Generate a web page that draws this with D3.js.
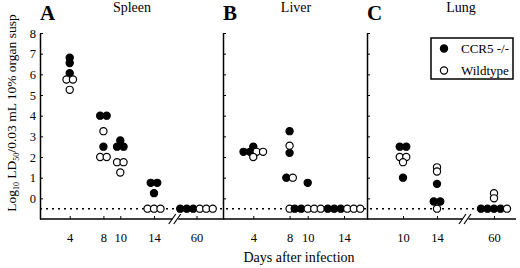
<!DOCTYPE html>
<html>
<head>
<meta charset="utf-8">
<script src="https://cdn.jsdelivr.net/npm/d3@7"></script>
<style>
  body { margin: 0; background: #fff; }
  svg { display: block; }
  text { font-family: "Liberation Serif", "Times New Roman", serif; fill: #000; }
</style>
</head>
<body>
<script>
// Data (log10 LD50 / 0.03 mL 10% organ susp); -0.5 = below detection
const spleenDays = [4, 8, 10, 14, 60];
const spleenKO = [[6.8, 6.55, 6.05], [4, 4, 2.5], [2.8, 2.5, 2.5], [0.75, 0.75, 0.25], [-0.5, -0.5, -0.5]];
const spleenWT = [[5.75, 5.75, 5.25], [3.25, 2, 2], [1.75, 1.75, 1.25], [-0.5, -0.5, -0.5], [-0.5, -0.5, -0.5]];

const liverDays = [4, 8, 10, 14];
const liverKO = [[2.5, 2.25, 2.25], [3.25, 2.2, 1], [0.75, -0.5, -0.5], [-0.5, -0.5, -0.5]];
const liverWT = [[2.25, 2.25, 2], [2.55, 1, -0.5], [-0.5, -0.5, -0.5], [-0.5, -0.5, -0.5]];

const lungDays = [10, 14, 60];
const lungKO = [[2.5, 2.5, 1], [0.7, -0.15, -0.15], [-0.5, -0.5, -0.5, -0.5]];
const lungWT = [[2, 2, 1.75], [1.5, 1.3, -0.5], [0.25, 0, -0.5]];

const yTicks = [0, 1, 2, 3, 4, 5, 6, 7, 8];
const detectionLimit = -0.5;
const seriesNames = ["CCR5 -/-", "Wildtype"];

// Layout
const W = 520, H = 268;
const svg = d3.select("body").append("svg")
    .attr("width", W)
    .attr("height", H);

const y = d3.scaleLinear().domain([-1, 8]).range([219, 33]);
const baseY = y(-1);
const plotLeft = 40, plotRight = 516;
const R = 3.6, spacing = 6.5;

const panels = [
    { letter: "A", title: "Spleen", titleX: 132, left: 40, days: spleenDays, ko: spleenKO, wt: spleenWT,
      x: d3.scaleLinear().domain([0, 14, 60]).range([36, 154, 196.5]), yLabels: true, brk: true },
    { letter: "B", title: "Liver", titleX: 296, left: 223, days: liverDays, ko: liverKO, wt: liverWT,
      x: d3.scaleLinear().domain([0, 14]).range([217, 344]), yLabels: false, brk: false },
    { letter: "C", title: "Lung", titleX: 461, left: 367, days: lungDays, ko: lungKO, wt: lungWT,
      x: d3.scaleLinear().domain([6, 14, 60]).range([369, 437, 494]), yLabels: false, brk: true }
];

// Dotted detection-limit line
svg.append("line")
    .attr("x1", plotLeft).attr("x2", 512)
    .attr("y1", y(detectionLimit)).attr("y2", y(detectionLimit))
    .attr("stroke", "#000")
    .attr("stroke-width", 1.5)
    .attr("stroke-dasharray", "2,4");

// Shared x axis line
svg.append("line")
    .attr("x1", plotLeft).attr("x2", plotRight)
    .attr("y1", baseY).attr("y2", baseY)
    .attr("stroke", "#000")
    .attr("stroke-width", 1.5);

panels.forEach((p) => {
    // Y axis (ticks point inward)
    const yAxis = d3.axisLeft(y)
        .tickValues(yTicks)
        .tickSizeInner(-3)
        .tickSizeOuter(0)
        .tickPadding(4);
    if (!p.yLabels) yAxis.tickFormat("");
    const gy = svg.append("g")
        .attr("transform", `translate(${p.left}, 0)`)
        .call(yAxis);
    gy.select(".domain").attr("stroke", "#000").attr("stroke-width", 1.5);
    gy.selectAll(".tick line").attr("stroke", "#000").attr("stroke-width", 1);
    gy.selectAll("text")
        .attr("fill", "#000")
        .attr("font-family", "Liberation Serif, serif")
        .attr("font-size", 12.5);

    // X axis ticks and labels
    const gx = svg.append("g")
        .attr("transform", `translate(0, ${baseY})`)
        .call(d3.axisBottom(p.x)
            .tickValues(p.days)
            .tickFormat(d3.format("d"))
            .tickSizeInner(-3)
            .tickSizeOuter(0)
            .tickPadding(14));
    gx.select(".domain").remove();
    gx.selectAll(".tick line").attr("stroke", "#000").attr("stroke-width", 1);
    gx.selectAll("text")
        .attr("fill", "#000")
        .attr("font-family", "Liberation Serif, serif")
        .attr("font-size", 12.5);

    // Axis break
    if (p.brk) {
        const bx = (p.x(14) + p.x(60)) / 2;
        svg.append("line")
            .attr("x1", bx - 3).attr("x2", bx + 3)
            .attr("y1", baseY).attr("y2", baseY)
            .attr("stroke", "#fff")
            .attr("stroke-width", 3);
        [-2.5, 2.5].forEach((o) => {
            svg.append("line")
                .attr("x1", bx + o - 4).attr("y1", baseY + 5)
                .attr("x2", bx + o + 3).attr("y2", baseY - 5)
                .attr("stroke", "#000")
                .attr("stroke-width", 1.2);
        });
    }

    // Points: equal values on the same day are spread side by side
    p.days.forEach((day, i) => {
        const pts = p.ko[i].map((v) => ({ v: v, filled: true }))
            .concat(p.wt[i].map((v) => ({ v: v, filled: false })));
        const rows = d3.group(pts, (d) => d.v);
        rows.forEach((row) => {
            const n = row.length;
            row.forEach((d, j) => {
                d.cx = p.x(day) + (j - (n - 1) / 2) * spacing;
            });
        });
        // draw filled first, open on top
        svg.append("g")
            .selectAll("circle")
            .data(pts.slice().sort((a, b) => d3.descending(a.filled, b.filled)))
            .join("circle")
            .attr("cx", (d) => d.cx)
            .attr("cy", (d) => y(d.v))
            .attr("r", R)
            .attr("fill", (d) => d.filled ? "#000" : "#fff")
            .attr("stroke", "#000")
            .attr("stroke-width", 1.2);
    });

    // Panel letter and title
    svg.append("text")
        .attr("x", p.left)
        .attr("y", 20)
        .attr("font-family", "Liberation Sans, Arial, sans-serif")
        .attr("font-weight", "bold")
        .attr("font-size", 21)
        .text(p.letter);
    svg.append("text")
        .attr("x", p.titleX)
        .attr("y", 12)
        .attr("text-anchor", "middle")
        .attr("font-size", 14)
        .text(p.title);
});

// Legend
const legend = svg.append("g").attr("transform", "translate(431, 38)");
legend.append("rect")
    .attr("width", 82).attr("height", 41)
    .attr("fill", "#fff")
    .attr("stroke", "#000")
    .attr("stroke-width", 1.5);
seriesNames.forEach((name, i) => {
    legend.append("circle")
        .attr("cx", 13).attr("cy", 10.5 + i * 22)
        .attr("r", R)
        .attr("fill", i === 0 ? "#000" : "#fff")
        .attr("stroke", "#000")
        .attr("stroke-width", 1.2);
    legend.append("text")
        .attr("x", 30).attr("y", 15 + i * 22)
        .attr("font-size", 13)
        .text(name);
});

// Axis titles
svg.append("text")
    .attr("x", 299)
    .attr("y", 262)
    .attr("text-anchor", "middle")
    .attr("font-size", 14)
    .text("Days after infection");

const yl = svg.append("text")
    .attr("transform", "translate(16, 113) rotate(-90)")
    .attr("text-anchor", "middle")
    .attr("font-size", 13.5);
yl.append("tspan").text("Log");
yl.append("tspan").attr("font-size", 8).attr("dy", 3).text("10");
yl.append("tspan").attr("dy", -3).text(" LD");
yl.append("tspan").attr("font-size", 8).attr("dy", 3).text("50");
yl.append("tspan").attr("dy", -3).text("/0.03 mL 10% organ susp");
</script>
</body>
</html>
